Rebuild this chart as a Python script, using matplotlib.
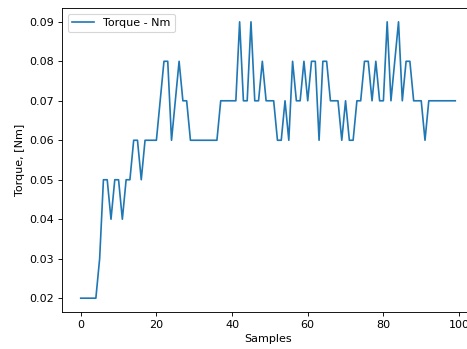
import matplotlib
matplotlib.use("Agg")
import matplotlib.pyplot as plt

# torque readings, one per sample (Nm)
torque = [0.02, 0.02, 0.02, 0.02, 0.02, 0.03, 0.05, 0.05, 0.04, 0.05,
          0.05, 0.04, 0.05, 0.05, 0.06, 0.06, 0.05, 0.06, 0.06, 0.06,
          0.06, 0.07, 0.08, 0.08, 0.06, 0.07, 0.08, 0.07, 0.07, 0.06,
          0.06, 0.06, 0.06, 0.06, 0.06, 0.06, 0.06, 0.07, 0.07, 0.07,
          0.07, 0.07, 0.09, 0.07, 0.07, 0.09, 0.07, 0.07, 0.08, 0.07,
          0.07, 0.07, 0.06, 0.06, 0.07, 0.06, 0.08, 0.07, 0.07, 0.08,
          0.07, 0.08, 0.08, 0.06, 0.08, 0.08, 0.07, 0.07, 0.07, 0.06,
          0.07, 0.06, 0.06, 0.07, 0.07, 0.08, 0.08, 0.07, 0.08, 0.07,
          0.07, 0.09, 0.07, 0.08, 0.09, 0.07, 0.08, 0.08, 0.07, 0.07,
          0.07, 0.06, 0.07, 0.07, 0.07, 0.07, 0.07, 0.07, 0.07, 0.07]
samples = list(range(len(torque)))

# original looks like a figure saved at 80 dpi
fig = plt.figure(figsize=(467 / 80, 349 / 80), dpi=80)
# axes runs a little past the right edge, like the cropped original
ax = fig.add_axes([62 / 467, 37 / 349, 412 / 467, 304 / 349])
ax.plot(samples, torque, color='#1f77b4', label='Torque - Nm')
ax.set_xlabel('Samples')
ax.set_ylabel('Torque, [Nm]')
ax.set_yticks([0.02, 0.03, 0.04, 0.05, 0.06, 0.07, 0.08, 0.09])
ax.legend(loc='upper left')
fig.savefig('out.png', dpi=80)
